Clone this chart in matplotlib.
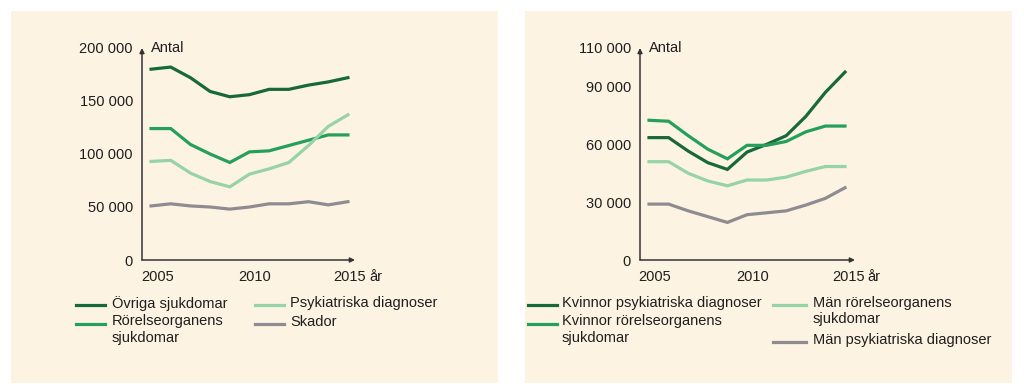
import matplotlib.pyplot as plt
import matplotlib.transforms as mtransforms
from matplotlib.patches import Rectangle
from matplotlib.lines import Line2D

plt.rcParams['font.family'] = ['Liberation Sans', 'DejaVu Sans']
plt.rcParams['font.size'] = 10.5

# ---- data ----
years = list(range(2005, 2016))

# left panel
ovriga = [180000, 182000, 172000, 159000, 154000, 156000, 161000, 161000, 165000, 168000, 172000]
rorelse = [124000, 124000, 109000, 100000, 92000, 102000, 103000, 108000, 113000, 118000, 118000]
psyk = [93000, 94000, 82000, 74000, 69000, 81000, 86000, 92000, 108000, 126000, 137000]
skador = [51000, 53000, 51000, 50000, 48000, 50000, 53000, 53000, 55000, 52000, 55000]
left_labels = ["Övriga sjukdomar", "Rörelseorganens\nsjukdomar",
               "Psykiatriska diagnoser", "Skador"]
left_ticks = [0, 50000, 100000, 150000, 200000]

# right panel
kv_psyk = [63500, 63500, 56500, 50500, 47000, 56000, 60000, 64500, 74500, 87000, 97500]
kv_rorelse = [72500, 72000, 64500, 57500, 52500, 59500, 59500, 61500, 66500, 69500, 69500]
man_rorelse = [51000, 51000, 45000, 41000, 38500, 41500, 41500, 43000, 46000, 48500, 48500]
man_psyk = [29000, 29000, 25500, 22500, 19500, 23500, 24500, 25500, 28500, 32000, 37500]
right_labels = ["Kvinnor psykiatriska diagnoser", "Kvinnor rörelseorganens\nsjukdomar",
                "Män rörelseorganens\nsjukdomar", "Män psykiatriska diagnoser"]
right_ticks = [0, 30000, 60000, 90000, 110000]

x_ticks = [2005, 2010, 2015]

colors = ["#17693a", "#25a05a", "#96d3a5", "#8e8c91"]
txt = "#1e1e1e"
beige = "#fdf3e3"

W, H = 1024, 392
fig = plt.figure(figsize=(W / 100, H / 100), dpi=100)


def fx(px):
    return px / W


def fy(py):
    return 1 - py / H


# beige boxes (behind the axes)
for x0, x1 in [(11, 498), (525, 1012)]:
    fig.patches.append(Rectangle((fx(x0), fy(383)), fx(x1 - x0), (383 - 11) / H,
                                 transform=fig.transFigure, facecolor=beige,
                                 edgecolor="none", zorder=-5))


def panel(x_axis, x_end, xlim, ylim, series, ticks, label_shift):
    ax = fig.add_axes([fx(x_axis), fy(260), fx(x_end - x_axis), (260 - 48) / H])
    ax.set_facecolor("none")
    for vals, c in zip(series, colors):
        ax.plot(years, vals, color=c, lw=2.3, solid_joinstyle="miter")
    ax.set_xlim(*xlim)
    ax.set_ylim(*ylim)
    for s in ax.spines.values():
        s.set_visible(False)
    ax.set_yticks(ticks)
    ax.set_yticklabels([f"{v:,}".replace(",", " ") for v in ticks])
    ax.set_xticks(x_ticks)
    ax.set_xticklabels([str(v) for v in x_ticks])
    ax.tick_params(length=0, colors=txt, labelsize=10.5)
    ax.tick_params(axis="y", pad=6.5)
    ax.tick_params(axis="x", pad=7)
    # year labels sit a little right of their tick in the original
    for lab, dx in zip(ax.get_xticklabels(), label_shift):
        off = mtransforms.ScaledTranslation(dx / 100, 0, fig.dpi_scale_trans)
        lab.set_transform(lab.get_transform() + off)
    # arrow axes
    arrow = dict(arrowstyle="-|>", color="#333333", lw=1.1, mutation_scale=7,
                 shrinkA=0, shrinkB=0)
    ax.annotate("", xy=(1, 0), xytext=(0, 0), xycoords="axes fraction", arrowprops=arrow)
    ax.annotate("", xy=(0, 1), xytext=(0, 0), xycoords="axes fraction", arrowprops=arrow)
    ax.annotate("Antal", xy=(0, 1), xycoords="axes fraction", xytext=(6.5, 0),
                textcoords="offset points", ha="left", va="center", color=txt)
    ax.annotate("år", xy=(2015, 0), xycoords=("data", "axes fraction"), xytext=(15.8, -7),
                textcoords="offset points", ha="left", va="top", color=txt)
    return ax


panel(142, 355, (2004.54, 2015.36), (0, 200000), [ovriga, rorelse, psyk, skador],
      left_ticks, [7, 5.5, 2])
panel(640, 855, (2004.54, 2015.51), (0, 110000), [kv_psyk, kv_rorelse, man_rorelse, man_psyk],
      right_ticks, [6, 6, 4])


# legends drawn by hand so the handle sits on the first line of a wrapped label
def legend(labels, cols, y0=305, pitch=18.5):
    # cols: (handle_x0, handle_x1, text_x) for each of the two columns
    for ci, (hx0, hx1, tx) in enumerate(cols):
        row = 0
        for li in (2 * ci, 2 * ci + 1):
            yc = y0 + row * pitch
            fig.add_artist(Line2D([fx(hx0), fx(hx1)], [fy(yc), fy(yc)],
                                  transform=fig.transFigure, color=colors[li], lw=2.3))
            fig.text(fx(tx), fy(yc - 9), labels[li], ha="left", va="top",
                     color=txt, linespacing=1.2)
            row += labels[li].count("\n") + 1


legend(left_labels, [(76, 105, 112), (255, 284, 290)])
legend(right_labels, [(528, 557, 562), (773, 806, 813)])

fig.savefig("out.png", dpi=100, facecolor="white")
